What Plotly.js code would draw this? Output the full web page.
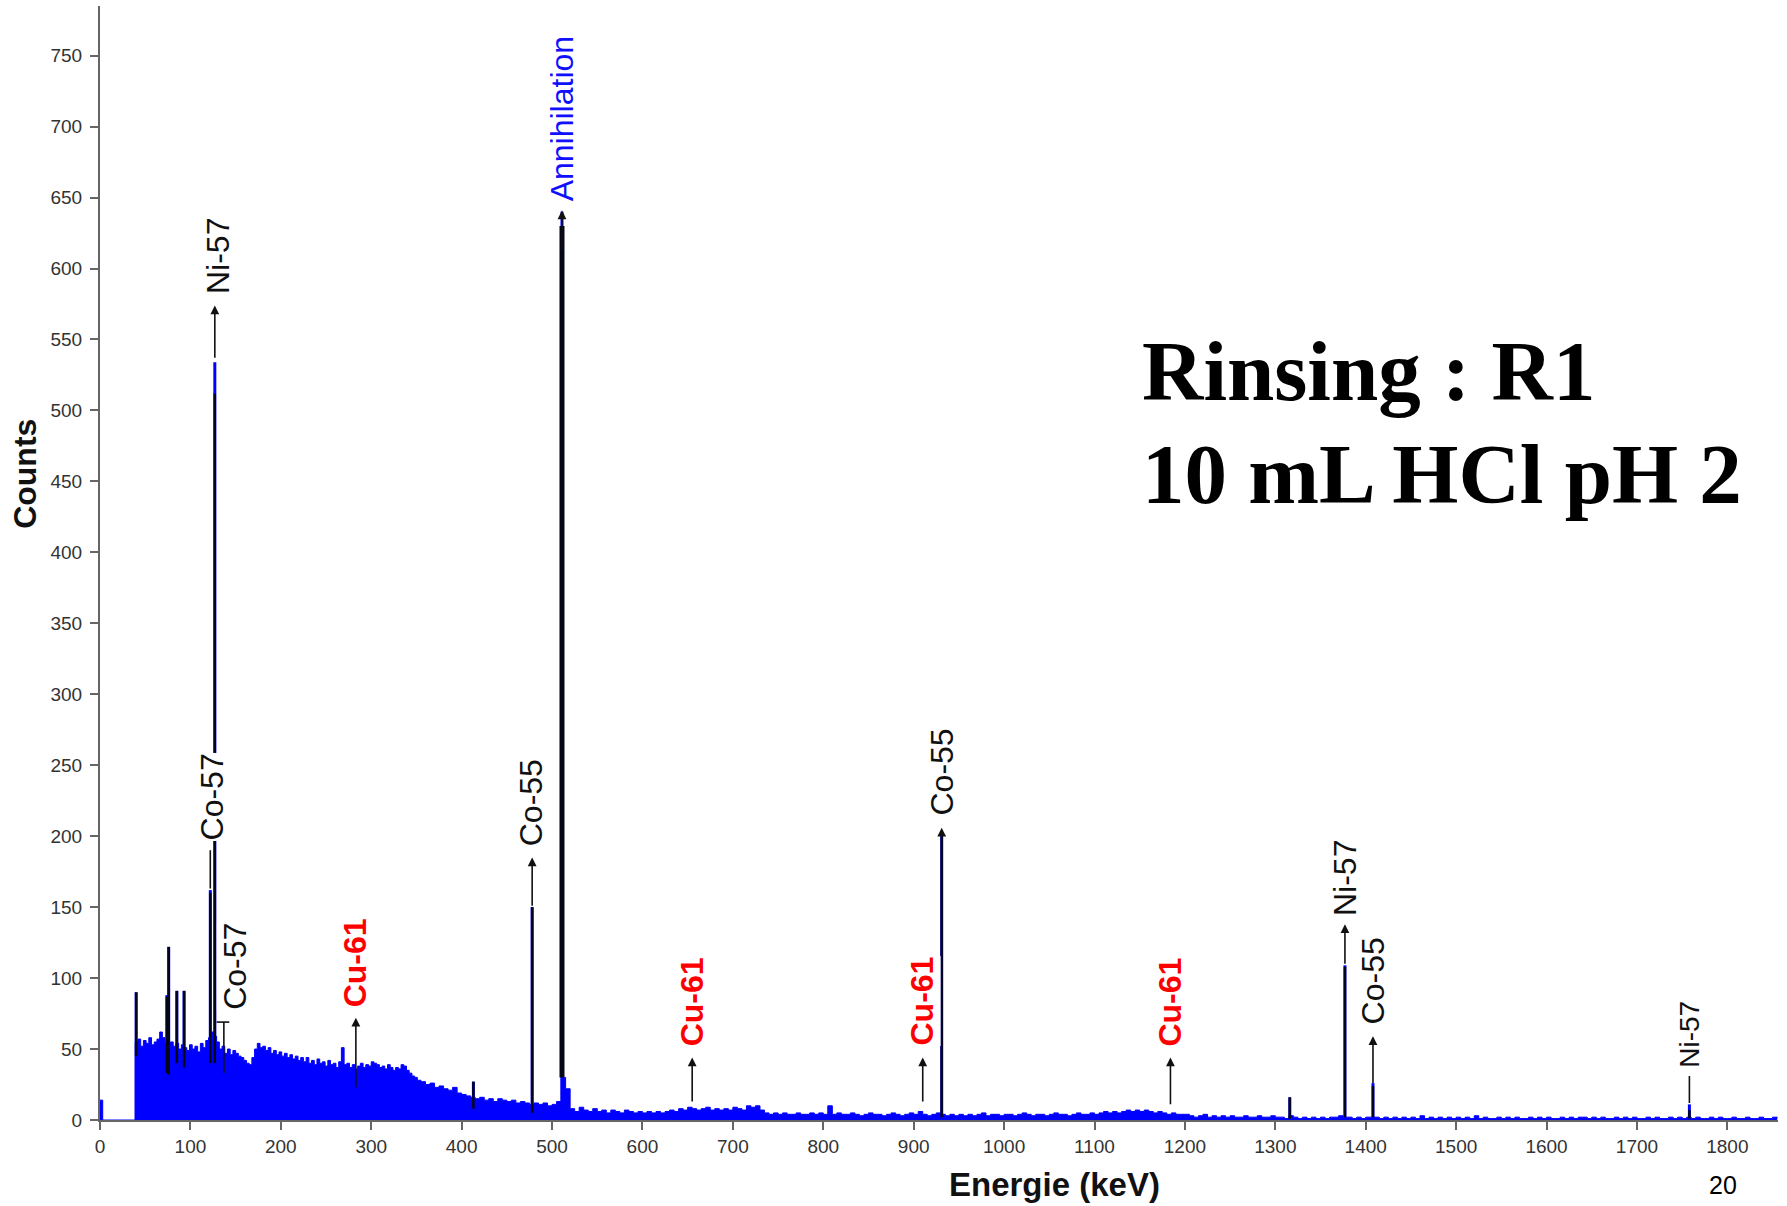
<!DOCTYPE html>
<html><head><meta charset="utf-8">
<script src="https://cdn.plot.ly/plotly-3.0.1.min.js"></script>
<style>html,body{margin:0;padding:0;background:#fff}#chart{width:1787px;height:1206px}</style>
</head><body><div id="chart"></div>
<script>
// ---- spectrum background (counts per channel group) ----
// grid A: 0 .. 351 keV, 3 keV per bin
const bgA_start = 0, bgA_step = 3;
const bgA_counts = [
  14, 0, 0, 0, 0, 0, 0, 0, 0, 0, 0, 0, 0,
  55, 57, 52, 56, 54, 58, 53, 55, 57, 62,
  58, 54, 51, 55, 52, 54, 50, 53, 51, 49,
  53, 50, 52, 48, 54, 51, 56, 58, 62, 59,
  55, 50, 52, 47, 50, 46, 49, 47, 45, 44,
  42, 40, 39, 44, 50, 54, 51, 52, 49, 51,
  47, 49, 46, 48, 45, 47, 44, 46, 43, 45,
  42, 44, 41, 44, 40, 42, 39, 43, 40, 41,
  38, 42, 39, 40, 37, 41, 51, 39, 40, 37,
  39, 36, 38, 40, 37, 39, 38, 41, 40, 39,
  37, 38, 36, 39, 37, 35, 37, 36, 39, 38,
  35, 33, 31, 30, 28
];
// grid B: 355 .. 1855 keV, 5 keV per bin
const bgB_start = 355, bgB_step = 5;
const bgB_counts = [
  27,25,26,23,24,22,21,23,19,18, 17,16,15,16,14,15,13,15,14,13,
  14,12,13,12,11,12,11,12,10,11, 13,30,22,8,6,9,7,6,8,6,
  7,5,7,6,5,7,6,5,6,5, 6,5,6,5,6,7,6,8,7,9,
  8,7,8,9,7,8,7,8,7,9, 8,7,10,9,10,7,5,4,5,4,
  5,4,4,5,4,4,5,4,5,4, 10,4,5,4,4,5,4,3,4,5,
  4,4,3,4,5,4,3,4,5,4, 6,4,3,4,5,4,3,4,3,4,
  3,4,3,4,5,3,4,4,3,4, 4,3,4,5,4,3,4,4,3,4,
  5,4,4,3,4,5,4,4,5,4, 5,6,5,6,5,6,7,6,7,6,
  7,6,5,6,5,4,5,4,4,4, 3,2,3,4,2,3,2,3,2,3,
  2,2,3,2,2,3,2,2,3,2, 2,1,3,2,1,2,1,2,1,2,
  1,2,2,3,2,2,1,2,1,2, 2,2,1,2,1,2,1,2,1,2,
  1,3,1,2,1,2,1,2,1,2, 1,2,1,3,1,2,1,1,2,1,
  2,1,2,1,1,2,1,2,1,2, 1,1,2,1,2,1,2,2,1,2,
  1,2,1,1,2,1,2,1,2,1, 1,2,1,2,1,1,2,1,2,1,
  2,1,2,1,1,2,1,2,1,1, 2,1,1,2,1,1,2,1,1,2,
  1
];

// ---- peaks ----
const peakEnergy  = [40, 74, 76, 85, 93, 122, 127, 413, 478, 511, 931, 1316, 1377, 1408, 1758];
const peakTop     = [90, 88, 122, 91, 91, 162, 534, 27, 150, 640, 201, 16, 109, 26, 11];
const peakFitLow  = [45, 33, 32, 40, 37, 40, 40, 8, 5, 30, 2, 1, 2, 2, 1];
const peakFitHigh = [90, 87, 122, 91, 91, 160, 512, 27, 150, 630, 200, 16, 108, 24, 7];

// ---- identifications ----
const labelText     = ['Ni-57','Co-57','Co-57','Cu-61','Co-55','Annihilation','Cu-61','Cu-61','Co-55','Cu-61','Ni-57','Co-55','Ni-57'];
const labelKind     = ['iso','iso','iso','cu','iso','ann','cu','cu','iso','cu','iso','iso','iso'];
const labelEnergy   = [130, 124, 150, 282, 477, 511, 655, 909, 931, 1184, 1377, 1408, 1758];
const labelBase     = [581, 196, 77, 79, 192, 647, 51, 52, 214, 51, 143, 67, 36];
const pointerEnergy = [127, 122, 137, 283, 478, 511, 655, 910, 931, 1184, 1377, 1408, 1758];
const pointerFrom   = [536, 162, 32, 22, 150, 612, 12, 12, 201, 10, 109, 25, 11];
const pointerTo     = [574, 190, 69, 72, 185, 641, 44, 44, 206, 44, 138, 59, 31];
const bracketSpan   = [129, 143]; // Co-57 136 keV bracket (keV)

// ---- styles ----
const kindStyle = {
  iso: {color: '#111111', weight: 'normal'},
  cu:  {color: '#ff0000', weight: 'bold'},
  ann: {color: '#1010ff', weight: 'normal'}
};
const headlessPointers = [1, 2, 12];
const smallLabels = [12];
const SANS = 'Liberation Sans, Arial, sans-serif';

// ---- build traces ----
const specX = [], specY = [];
bgA_counts.forEach((c, i) => { specX.push(bgA_start + i * bgA_step); specY.push(c); });
bgB_counts.forEach((c, i) => { specX.push(bgB_start + i * bgB_step); specY.push(c); });

const traces = [];
traces.push({
  type: 'scatter', mode: 'lines', x: specX, y: specY,
  line: {shape: 'hv', color: '#0000ff', width: 1},
  fill: 'tozeroy', fillcolor: '#0000ff', hoverinfo: 'skip', showlegend: false
});
// peak spikes (blue)
const pkX = [], pkY = [];
peakEnergy.forEach((e, i) => { pkX.push(e, e, null); pkY.push(0, peakTop[i], null); });
traces.push({type: 'scatter', mode: 'lines', x: pkX, y: pkY,
  line: {color: '#0000ff', width: 3}, hoverinfo: 'skip', showlegend: false});
// fitted peak regions (black)
peakEnergy.forEach((e, i) => {
  traces.push({type: 'scatter', mode: 'lines', x: [e, e], y: [peakFitLow[i], peakFitHigh[i]],
    line: {color: '#050518', width: e === 511 ? 5 : 2.5}, hoverinfo: 'skip', showlegend: false});
});

// ---- annotations ----
const ann = [];
labelText.forEach((t, i) => {
  const st = kindStyle[labelKind[i]];
  ann.push({
    xref: 'x', yref: 'y', x: labelEnergy[i], y: labelBase[i],
    xanchor: 'center', yanchor: 'bottom', textangle: -90, showarrow: false,
    text: st.weight === 'bold' ? '<b>' + t + '</b>' : t,
    font: {family: SANS, size: smallLabels.includes(i) ? 28 : 32, color: st.color},
    bgcolor: '#ffffff', borderpad: 0
  });
  ann.push({
    xref: 'x', yref: 'y', axref: 'x', ayref: 'y',
    x: pointerEnergy[i], y: pointerTo[i], ax: pointerEnergy[i], ay: pointerFrom[i],
    text: '', showarrow: true,
    arrowhead: headlessPointers.includes(i) ? 0 : 2, arrowsize: 1.1, arrowwidth: 1.6,
    arrowcolor: '#111111', standoff: 0, startstandoff: 0
  });
});

const shapes = [{
  type: 'line', xref: 'x', yref: 'y', x0: bracketSpan[0], x1: bracketSpan[1],
  y0: pointerTo[2], y1: pointerTo[2], line: {color: '#111111', width: 1.6}
}];

ann.push({xref: 'paper', yref: 'paper', x: -0.0447, y: 0.58, xanchor: 'center', yanchor: 'middle',
  textangle: -90, showarrow: false, text: '<b>Counts</b>', font: {family: SANS, size: 32, color: '#111'}});
ann.push({xref: 'paper', yref: 'paper', x: 0.569, y: -0.0583, xanchor: 'center', yanchor: 'middle',
  showarrow: false, text: '<b>Energie (keV)</b>', font: {family: SANS, size: 33, color: '#111'}});
ann.push({xref: 'paper', yref: 'paper', x: 0.967, y: -0.0583, xanchor: 'center', yanchor: 'middle',
  showarrow: false, text: '20', font: {family: SANS, size: 25, color: '#000'}});
ann.push({xref: 'paper', yref: 'paper', x: 0.6195, y: 0.672, xanchor: 'left', yanchor: 'middle',
  showarrow: false, text: '<b>Rinsing : R1</b>', font: {family: 'Liberation Serif, Times New Roman, serif', size: 85, color: '#000'}});
ann.push({xref: 'paper', yref: 'paper', x: 0.6195, y: 0.580, xanchor: 'left', yanchor: 'middle',
  showarrow: false, text: '<b>10 mL HCl pH 2</b>', font: {family: 'Liberation Serif, Times New Roman, serif', size: 85, color: '#000'}});

const layout = {
  width: 1787, height: 1206,
  margin: {l: 100, r: 9, t: 6, b: 86},
  paper_bgcolor: '#ffffff', plot_bgcolor: '#ffffff',
  showlegend: false,
  xaxis: {
    range: [0, 1856], tick0: 0, dtick: 100, showgrid: false, zeroline: false,
    showline: true, linecolor: '#666', linewidth: 2,
    ticks: 'outside', ticklen: 8, tickwidth: 2, tickcolor: '#666',
    tickfont: {family: SANS, size: 19, color: '#333'}
  },
  yaxis: {
    range: [0, 785], tick0: 0, dtick: 50, showgrid: false, zeroline: false,
    showline: true, linecolor: '#666', linewidth: 2,
    ticks: 'outside', ticklen: 8, tickwidth: 2, tickcolor: '#666', ticklabelstandoff: 4,
    tickfont: {family: SANS, size: 19, color: '#333'}
  },
  annotations: ann,
  shapes: shapes
};

Plotly.newPlot('chart', traces, layout, {displayModeBar: false, staticPlot: true});
</script>
</body></html>
